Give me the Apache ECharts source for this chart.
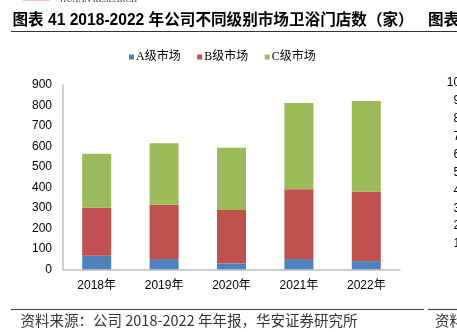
<!DOCTYPE html>
<html>
<head>
<meta charset="utf-8">
<script src="https://cdn.jsdelivr.net/npm/echarts@6/dist/echarts.min.js"></script>
<style>
html,body{margin:0;padding:0;background:#fff;}
#chart{width:457px;height:332px;}
</style>
</head>
<body>
<div id="chart"></div>
<script>
const categories = ['2018年', '2019年', '2020年', '2021年', '2022年'];
const seriesNames = ['A级市场', 'B级市场', 'C级市场'];
const aMarket = [66, 50, 29, 50, 40];
const bMarket = [235, 265, 260, 341, 340];
const cMarket = [263, 301, 304, 421, 442];
const yTicks = { min: 0, max: 900, interval: 100 };
const rightTickLabels = ['1000', '900', '800', '700', '600', '500', '400', '300', '200', '100', '0'];
const titleText = '图表 41 2018-2022 年公司不同级别市场卫浴门店数（家）';
const nextTitleText = '图表 42';
const sourceText = '资料来源：公司 2018-2022 年年报，华安证券研究所';
const nextSourceText = '资料来源';

const colors = ['#4F81BD', '#C0504D', '#9BBB59'];
const chart = echarts.init(document.getElementById('chart'), null, { renderer: 'canvas' });

const sansFont = '"Liberation Sans", Arial, "Noto Sans CJK SC", sans-serif';
const graphics = [
  { type: 'rect', shape: { x: 23, y: -2, width: 27, height: 3 }, style: { fill: '#f2c4c8' } },
  { type: 'text', x: 60, y: -5, style: { text: 'HUAAN RESEARCH', font: '8.5px "Liberation Serif", serif', fill: '#333' } },
  { type: 'text', x: 12.5, y: 12.5, style: { text: titleText, font: 'bold 15.6px ' + sansFont, fill: '#000' } },
  { type: 'text', x: 428, y: 12.5, style: { text: nextTitleText, font: 'bold 15.6px ' + sansFont, fill: '#000' } },
  { type: 'line', shape: { x1: 11, y1: 31.5, x2: 457, y2: 31.5 }, style: { stroke: '#333', lineWidth: 1.2 } },
  { type: 'line', shape: { x1: 11, y1: 309.5, x2: 424, y2: 309.5 }, style: { stroke: '#444', lineWidth: 1.2 } },
  { type: 'line', shape: { x1: 428, y1: 309.5, x2: 457, y2: 309.5 }, style: { stroke: '#444', lineWidth: 1.2 } },
  { type: 'text', x: 20.5, y: 313.5, style: { text: sourceText, font: '14.5px "Noto Sans CJK SC", ' + sansFont, fill: '#333' } },
  { type: 'text', x: 435, y: 313.5, style: { text: nextSourceText, font: '14.5px "Noto Sans CJK SC", ' + sansFont, fill: '#333' } }
];
rightTickLabels.forEach((t, i) => {
  graphics.push({ type: 'text', x: 473.4, y: 82.7 + i * 17.93, style: { text: t, font: '12px ' + sansFont, fill: '#000', textAlign: 'right', textVerticalAlign: 'middle' } });
});

chart.setOption({
  animation: false,
  color: colors,
  legend: {
    data: seriesNames,
    left: 124,
    top: 46,
    icon: 'rect',
    itemWidth: 5,
    itemHeight: 5,
    itemGap: 16.5,
    textStyle: { fontSize: 12, color: '#000', fontFamily: '"Liberation Serif", "Noto Sans CJK SC", serif', padding: [0, 0, 0, -3] }
  },
  grid: { left: 63, right: 57, top: 85, bottom: 62.7, containLabel: false },
  xAxis: {
    type: 'category',
    data: categories,
    axisLine: { lineStyle: { color: '#BFBFBF', width: 1.5 } },
    axisTick: { show: false },
    axisLabel: { fontSize: 12, color: '#000', margin: 10, fontFamily: sansFont }
  },
  yAxis: {
    type: 'value',
    min: yTicks.min, max: yTicks.max, interval: yTicks.interval,
    axisLine: { show: true, lineStyle: { color: '#BFBFBF', width: 1.5 } },
    axisTick: { show: false },
    splitLine: { show: false },
    axisLabel: { fontSize: 12, color: '#000', margin: 11, fontFamily: sansFont }
  },
  series: [
    { name: seriesNames[0], type: 'bar', stack: 'total', data: aMarket, barWidth: 29 },
    { name: seriesNames[1], type: 'bar', stack: 'total', data: bMarket, barWidth: 29 },
    { name: seriesNames[2], type: 'bar', stack: 'total', data: cMarket, barWidth: 29 }
  ],
  graphic: graphics
});
</script>
</body>
</html>
